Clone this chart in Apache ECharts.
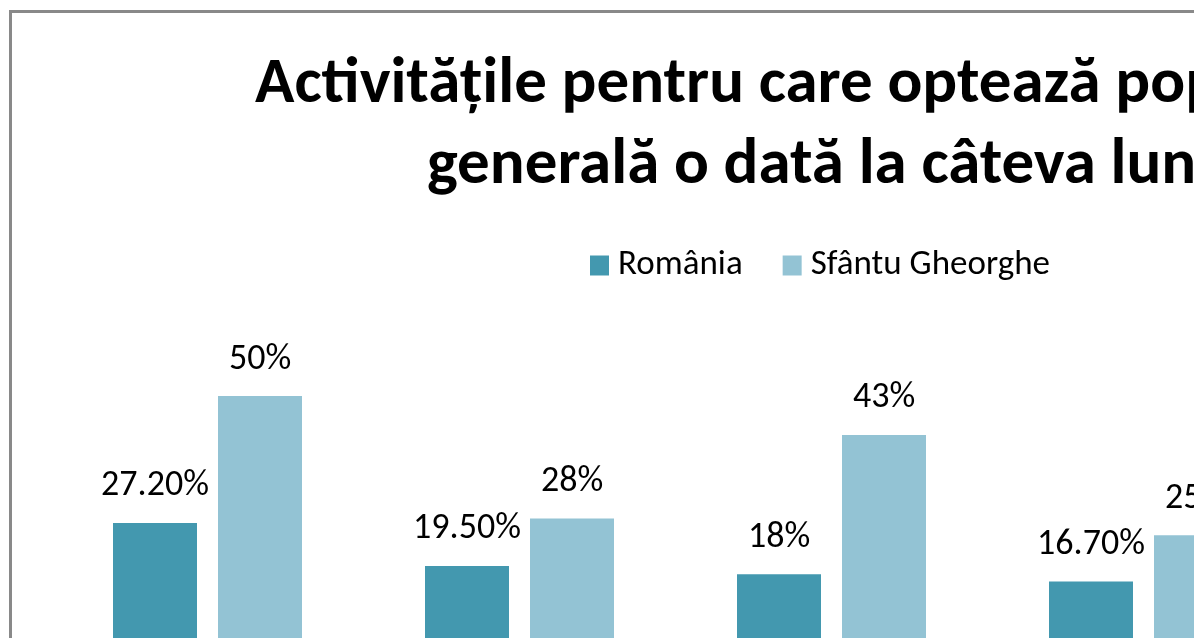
<!DOCTYPE html>
<html>
<head>
<meta charset="utf-8">
<title>Activitățile pentru care optează populația</title>
<script src="https://cdn.jsdelivr.net/npm/echarts@6/dist/echarts.min.js"></script>
<style>
    html, body { margin: 0; padding: 0; background: #fff; }
    #wrap { position: absolute; left: 0; top: 0; width: 1194px; height: 638px; overflow: hidden; background: #fff; }
    #main { position: absolute; left: 9px; top: 10px; width: 1616px; height: 760px; border: 3px solid #898989; background: #fff; }
</style>
</head>
<body>
<div id="wrap"><div id="main"></div></div>
<script>
    // date
    var titleLines = ['Activitățile pentru care optează populația', 'generală o dată la câteva luni'];
    var categories = ['Categoria 1', 'Categoria 2', 'Categoria 3', 'Categoria 4'];
    var romania = [27.2, 19.5, 18, 16.7];
    var sfantuGheorghe = [50, 28, 43, 25];
    var seriesNames = ['România', 'Sfântu Gheorghe'];

    var font = 'Carlito, Lato, sans-serif';

    function fmt(p){
        var v = p.value;
        return (Number.isInteger(v) ? v : v.toFixed(2)) + '%';
    }

    var myChart = echarts.init(document.getElementById('main'));

    var option = {
        animation: false,
        backgroundColor: '#fff',
        title: [{
            text: titleLines[0],
            left: 238,
            top: 35,
            textStyle: { fontFamily: font, fontWeight: 'bold', fontSize: 65, color: '#000' }
        }, {
            text: titleLines[1],
            left: 410,
            top: 116,
            textStyle: { fontFamily: font, fontWeight: 'bold', fontSize: 65, color: '#000' }
        }],
        legend: {
            data: seriesNames,
            left: 573,
            top: 230,
            icon: 'rect',
            itemWidth: 19,
            itemHeight: 20,
            itemGap: 40,
            textStyle: { fontFamily: font, fontSize: 35, color: '#000', padding: [0, 0, 0, 4] }
        },
        grid: {
            left: 39.5,
            top: 327.3,
            width: 1248,
            height: 334.2
        },
        xAxis: {
            type: 'category',
            data: categories,
            axisLine: { show: false },
            axisTick: { show: false },
            axisLabel: { show: false }
        },
        yAxis: {
            type: 'value',
            min: 0,
            max: 60,
            show: false
        },
        series: [{
            name: seriesNames[0],
            type: 'bar',
            data: romania,
            barWidth: 84,
            barGap: '25%',
            itemStyle: { color: '#4398AF' },
            label: { show: true, position: 'top', distance: 18.5, formatter: fmt,
                fontFamily: font, fontSize: 36, color: '#000' }
        }, {
            name: seriesNames[1],
            type: 'bar',
            data: sfantuGheorghe,
            barWidth: 84,
            barGap: '25%',
            itemStyle: { color: '#93C3D4' },
            label: { show: true, position: 'top', distance: 18.5, formatter: fmt,
                fontFamily: font, fontSize: 36, color: '#000' }
        }]
    };

    myChart.setOption(option);
</script>
</body>
</html>
